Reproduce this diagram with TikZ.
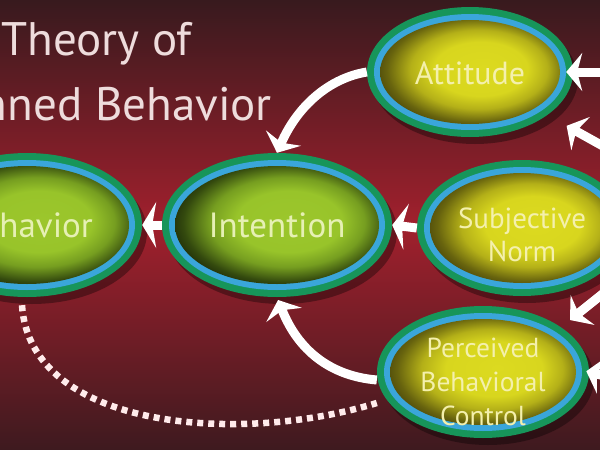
\documentclass[tikz,border=0pt]{standalone}
\usepackage{fontspec}
\setmainfont{PT Sans}
\usetikzlibrary{arrows.meta,shapes.geometric}
\definecolor{bgtop}{HTML}{381A1E}
\definecolor{bgmid}{HTML}{A1202D}
\definecolor{bgbot}{HTML}{3E1A1F}
\definecolor{ringg}{HTML}{17955A}
\definecolor{ringb}{HTML}{3AA6DA}
\definecolor{gtext}{HTML}{E6F0B4}
\definecolor{ytext}{HTML}{F4F0AC}
\definecolor{titlec}{HTML}{EEDCDC}
\pgfdeclareradialshading{gshade}{\pgfpoint{4bp}{2bp}}{%
  color(0bp)=(rgb,255:red,156;green,198;blue,44);
  color(13bp)=(rgb,255:red,152;green,196;blue,42);
  color(19bp)=(rgb,255:red,118;green,158;blue,32);
  color(25bp)=(rgb,255:red,52;green,74;blue,14);
  color(30bp)=(rgb,255:red,18;green,28;blue,6);
  color(50bp)=(rgb,255:red,18;green,28;blue,6)}
\pgfdeclareradialshading{yshade}{\pgfpoint{4bp}{2bp}}{%
  color(0bp)=(rgb,255:red,220;green,218;blue,32);
  color(13bp)=(rgb,255:red,216;green,214;blue,30);
  color(19bp)=(rgb,255:red,180;green,176;blue,24);
  color(25bp)=(rgb,255:red,104;green,100;blue,14);
  color(30bp)=(rgb,255:red,60;green,58;blue,10);
  color(50bp)=(rgb,255:red,60;green,58;blue,10)}
\tikzset{
  greenfill/.style={shading=gshade},
  yellowfill/.style={shading=yshade},
  warrow/.style={draw=white, line width=9pt, -{Stealth[length=16pt,width=38pt,inset=5pt]}},
  wshort/.style={draw=white, line width=9pt, -{Stealth[length=14pt,width=46pt,inset=4pt]}},
  dots/.style={draw=white!92!red, line width=6.5pt, dash pattern=on 6pt off 5pt},
  titletext/.style={anchor=base east, text=titlec, font=\fontsize{47}{50}\selectfont, inner sep=0pt},
  gtxt/.style={text=gtext, font=\fontsize{35}{36}\selectfont},
  ytxt/.style={text=ytext, align=center},
}
% #1 name, #2 centre, #3 rx, #4 ry, #5 fill style, #6 text style, #7 text drop (pt), #8 text
\newcommand\myoval[8]{%
  \fill[black,opacity=.35,shift={(5,7)}] #2 ellipse [x radius=#3pt, y radius=#4pt];
  \fill[ringg] #2 ellipse [x radius=#3pt, y radius=#4pt];
  \fill[ringb] #2 ellipse [x radius={(#3-7)*1pt}, y radius={(#4-7)*1pt}];
  \shade[#5] #2 ellipse [x radius={(#3-13)*1pt}, y radius={(#4-13)*1pt}];
  \node[ellipse, inner sep=0pt, minimum width={2*#3*1pt}, minimum height={2*#4*1pt}] (#1) at #2 {};
  \node[#6, inner sep=0pt] (#1-text) at ([yshift={-#7pt}]#1.center) {#8};
}
\begin{document}
\begin{tikzpicture}[x=1pt,y=-1pt]
\useasboundingbox (0,0) rectangle (600,450);
\clip (0,0) rectangle (600,450);
\shade[top color=bgtop, bottom color=bgbot, middle color=bgmid] (0,0) rectangle (600,450);
% title
\node[titletext] (t1) at (192,55) {Theory of};
\node[titletext] (t2) at (272,120) {Planned Behavior};
% ovals
\myoval{beh}{(27,225)}{115}{72}{greenfill}{gtxt}{0}{Behavior}
\myoval{int}{(277,225)}{115}{72}{greenfill}{gtxt}{0}{Intention}
\myoval{att}{(470,72)}{103}{65}{yellowfill}{ytxt, font=\fontsize{32}{34}\selectfont}{1}{Attitude}
\myoval{sub}{(522,228)}{105}{68}{yellowfill}{ytxt, font=\fontsize{29}{33}\selectfont}{7}{Subjective\\Norm}
\myoval{per}{(483,372)}{106}{66}{yellowfill}{ytxt, font=\fontsize{27.5}{34}\selectfont}{10}{Perceived\\Behavioral\\Control}
% connectors
\draw[warrow] (att.west) .. controls (330,78) and (298,105) .. (int.north);
\draw[warrow, shorten >=3pt] (per.west) ++(0,8) .. controls (330,376) and (298,350) .. (int.south);
\draw[wshort] (int.west) -- (beh.east);
\draw[wshort] (sub.west) -- (int.east);
\draw[dots] (beh.south) ++(-5,8) .. controls (30,430) and (240,445) .. (per.west |- 0,403);
% incoming from right edge
\coordinate (r1) at (608,72);
\coordinate (r2) at (610,150);
\coordinate (r3) at (610,288);
\coordinate (t3) at (570,320);
\coordinate (r4) at (612,378);
\draw[warrow, shorten >=-7pt] (r1) -- (att.east);
\draw[warrow, shorten >=22pt] (r2) -- (att);
\draw[warrow] (r3) -- (t3);
\draw[warrow, shorten >=-3pt] (r4) -- (per.east);
\end{tikzpicture}
\end{document}
